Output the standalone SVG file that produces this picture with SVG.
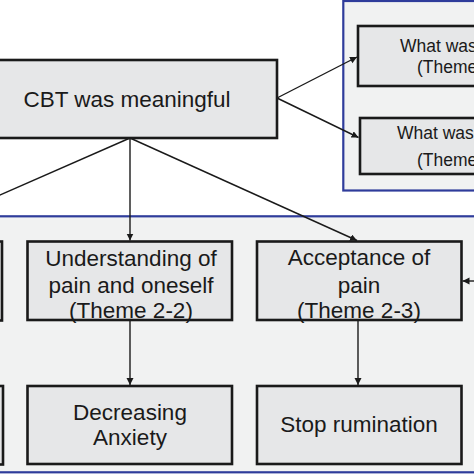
<svg xmlns="http://www.w3.org/2000/svg" width="474" height="474" viewBox="0 0 474 474">
<defs>
<style>
.panel{fill:#f1f2f2;stroke:#2f3c9b;stroke-width:2.2}
.box{fill:#e6e7e8;stroke:#1a1a1a;stroke-width:2.6}
.t{font-family:"Liberation Sans",Arial,sans-serif;font-size:22.5px;fill:#1a1a1a;text-anchor:middle}
.ts{font-family:"Liberation Sans",Arial,sans-serif;font-size:17.5px;fill:#1a1a1a}
.c{stroke:#1a1a1a;stroke-width:1.4;fill:none}
</style>
<marker id="ah" markerUnits="userSpaceOnUse" markerWidth="8" markerHeight="8" refX="7" refY="3.5" orient="auto">
<path d="M0,0 L7,3.5 L0,7 Z" fill="#1a1a1a"/>
</marker>
</defs>
<rect x="0" y="0" width="474" height="474" fill="#ffffff"/>
<g id="panel-right"><rect class="panel" x="343.3" y="1" width="140" height="189.5"/></g>
<g id="panel-bottom"><rect class="panel" x="-5" y="216.3" width="485" height="256"/></g>

<g id="connectors">
<line class="c" x1="277" y1="98" x2="357" y2="57" marker-end="url(#ah)"/>
<line class="c" x1="277" y1="98" x2="358.5" y2="137.5" marker-end="url(#ah)"/>
<line class="c" x1="130" y1="138" x2="130" y2="240.5" marker-end="url(#ah)"/>
<line class="c" x1="130" y1="138" x2="357" y2="240.5" marker-end="url(#ah)"/>
<line class="c" x1="130" y1="138" x2="-10" y2="199.4"/>
<line class="c" x1="130" y1="320" x2="130" y2="385" marker-end="url(#ah)"/>
<line class="c" x1="358" y1="320" x2="358" y2="385" marker-end="url(#ah)"/>
<line class="c" x1="482" y1="281" x2="462.5" y2="281" marker-end="url(#ah)"/>
</g>

<g id="cbt"><rect class="box" x="-30" y="60" width="307" height="78"/><text class="t" x="127" y="107">CBT was meaningful</text></g>
<g id="what1"><rect class="box" x="358" y="26" width="200" height="60"/><text class="ts" x="400" y="52">What was</text><text class="ts" x="417" y="73">(Theme</text></g>
<g id="what2"><rect class="box" x="360" y="118" width="200" height="56"/><text class="ts" x="397" y="139">What was</text><text class="ts" x="417" y="166">(Theme</text></g>

<g id="left-top"><rect class="box" x="-200" y="241.5" width="202" height="79"/></g>
<g id="left-bottom"><rect class="box" x="-200" y="386" width="203" height="78.5"/></g>

<g id="understanding"><rect class="box" x="27.5" y="241.5" width="204.5" height="78.5"/><text class="t" x="131" y="266">Understanding of</text><text class="t" x="131" y="293">pain and oneself</text><text class="t" x="131" y="318">(Theme 2-2)</text></g>
<g id="acceptance"><rect class="box" x="257" y="241.5" width="204.5" height="78.5"/><text class="t" x="359" y="265">Acceptance of</text><text class="t" x="359" y="293">pain</text><text class="t" x="359" y="318">(Theme 2-3)</text></g>
<g id="decreasing"><rect class="box" x="27.5" y="386" width="204.5" height="78"/><text class="t" x="130" y="420">Decreasing</text><text class="t" x="130" y="445">Anxiety</text></g>
<g id="stop"><rect class="box" x="257" y="386" width="204.5" height="78"/><text class="t" x="359" y="432">Stop rumination</text></g>
</svg>
